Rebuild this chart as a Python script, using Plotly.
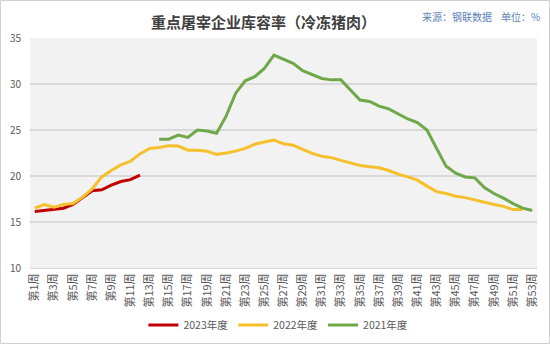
import plotly.graph_objects as go

weeks = [f"第{i}周" for i in range(1, 54)]
tick_labels = [f"第{i}周" for i in range(1, 54, 2)]

y2023 = [16.15, 16.25, 16.4, 16.5, 16.9, 17.7, 18.4, 18.5, 19.0, 19.4, 19.6, 20.1]
y2022 = [16.5, 16.9, 16.6, 16.9, 17.0, 17.7, 18.6, 19.9, 20.6, 21.2, 21.6, 22.4,
         23.0, 23.1, 23.3, 23.25, 22.8, 22.8, 22.7, 22.35, 22.5, 22.7, 23.0, 23.45,
         23.7, 23.9, 23.5, 23.35, 22.9, 22.45, 22.15, 22.0, 21.7, 21.45, 21.15, 21.0,
         20.9, 20.6, 20.2, 19.9, 19.55, 18.9, 18.3, 18.1, 17.8, 17.65, 17.4, 17.1,
         16.9, 16.7, 16.35, 16.35]
y2021 = [24.0, 24.0, 24.45, 24.2, 25.0, 24.9, 24.65, 26.5, 29.0, 30.35, 30.8, 31.7,
         33.15, 32.7, 32.25, 31.45, 31.0, 30.6, 30.45, 30.45, 29.35, 28.25, 28.1,
         27.6, 27.3, 26.75, 26.2, 25.8, 25.0, 23.0, 21.05, 20.3, 19.9, 19.8, 18.75,
         18.1, 17.6, 17.0, 16.5, 16.25]

series = [
    ("2023年度", weeks[:len(y2023)], y2023, "#C00000"),
    ("2022年度", weeks[:len(y2022)], y2022, "#F5C02C"),
    ("2021年度", weeks[13:13 + len(y2021)], y2021, "#6EA848"),
]

fig = go.Figure()
for name, xs, ys, color in series:
    fig.add_trace(go.Scatter(x=xs, y=ys, name=name, mode="lines",
                             line=dict(color=color, width=3)))

font_family = "Noto Sans CJK SC, Noto Sans, sans-serif"
fig.update_layout(
    width=550, height=344,
    margin=dict(l=30, r=13, t=38, b=76, autoexpand=False),
    paper_bgcolor="white",
    plot_bgcolor="#F2F2F2",
    font=dict(family=font_family, color="#595959", size=10),
    showlegend=True,
    legend=dict(orientation="h", x=0.49, xanchor="center", y=-0.248, yanchor="middle",
                font=dict(size=10.5, color="#595959"), itemwidth=30, tracegroupgap=0),
    annotations=[
        dict(text="<b>重点屠宰企业库容率（冷冻猪肉）</b>", xref="paper", yref="paper",
             x=0.46, y=1.0, xanchor="center", yanchor="bottom", yshift=4, showarrow=False,
             font=dict(size=15, color="#404040", family=font_family)),
        dict(text="来源：钢联数据    单位：%", xref="paper", yref="paper",
             x=1.01, y=1.0, xanchor="right", yanchor="bottom", yshift=12, showarrow=False,
             font=dict(size=10, color="#5B7FB8", family=font_family)),
    ],
    shapes=[dict(type="rect", xref="paper", yref="paper",
                 x0=-29.5 / 507, x1=519.5 / 507, y0=-75.5 / 230, y1=267.5 / 230,
                 line=dict(color="#D0D0D0", width=1), fillcolor="rgba(0,0,0,0)", layer="below")],
)
fig.update_xaxes(type="category", categoryarray=weeks, categoryorder="array",
                 range=[-0.5, 52.5], tickmode="array", tickvals=tick_labels,
                 tickangle=-90, showgrid=False, showline=True, linecolor="#D9D9D9",
                 ticks="", automargin=False, tickfont=dict(size=11, color="#595959"))
fig.update_yaxes(range=[10, 35], dtick=5, showgrid=True, gridcolor="#D9D9D9",
                 gridwidth=1.5, zeroline=False, showline=False, ticks="",
                 automargin=False, ticklabelstandoff=8,
                 tickfont=dict(size=10, color="#595959"))

fig.write_html("out.html")
